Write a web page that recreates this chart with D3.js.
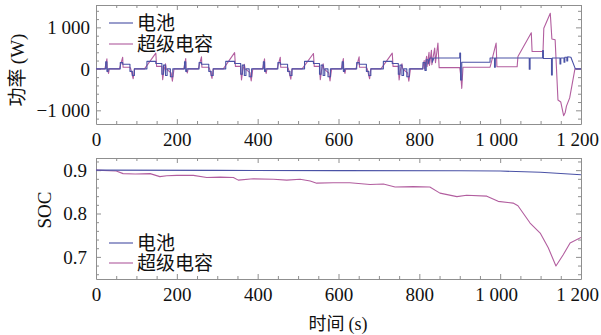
<!DOCTYPE html>
<html>
<head>
<meta charset="utf-8">
<script src="https://cdn.jsdelivr.net/npm/d3@7"></script>
<style>
body{margin:0;background:#fff;}
</style>
</head>
<body>
<svg id="svg" width="601" height="335"></svg>
<script>
// time ticks (s)
var timeTicks=[0,200,400,600,800,1000,1200];
var timeTickLabels=["0","200","400","600","800","1 000","1 200"];
var powerTicks=[-1000,0,1000];
var powerTickLabels=["\u22121 000","0","1 000"];
var socTicks=[0.7,0.8,0.9];
var socTickLabels=["0.7","0.8","0.9"];
var seriesNames=["电池","超级电容"];

// power (W) of the supercapacitor: [time, W]
var supercapPower=[
[0,0],[22,0],[27,240],[28,0],[31,-110],[33,0],[58,0],[66,280],[67,40],[84,40],[86,0],[92,-240],[95,0],[120,0],[148,380],[150,60],[163,60],[165,-260],[168,-40],[172,120],[174,0],[186,-100],[189,-300],[193,0],
[195,0],[217,0],[222,250],[223,0],[226,-100],[228,0],[253,0],[261,290],[262,40],[279,40],[281,0],[287,-230],[290,0],[315,0],[343,390],[345,60],[358,60],[360,-270],[363,-40],[367,110],[369,0],[381,-90],[384,-290],[388,0],
[390,0],[412,0],[417,240],[418,0],[421,-110],[423,0],[448,0],[456,280],[457,40],[474,40],[476,0],[482,-250],[485,0],[510,0],[538,370],[540,60],[553,60],[555,-260],[558,-40],[562,120],[564,0],[576,-100],[579,-290],[583,0],
[585,0],[607,0],[612,250],[613,0],[616,-110],[618,0],[643,0],[651,290],[652,40],[669,40],[671,0],[677,-240],[680,0],[705,0],[733,380],[735,60],[748,60],[750,-270],[753,-40],[757,120],[759,0],[771,-100],[774,-300],[778,0],
[808,0],[812,200],[813,0],[818,300],[819,50],[824,400],[825,80],[830,450],[831,100],[838,500],[840,150],[846,620],[849,30],[900,30],[903,-200],[905,-470],[908,40],[975,40],[978,150],[990,620],[992,50],[1042,50],[1044,300],[1077,870],[1079,420],[1106,420],[1108,980],[1124,1340],[1128,720],[1136,700],[1143,-750],[1150,-800],[1157,-1130],[1161,-1050],[1164,-900],[1172,-700],[1185,0],[1200,0]
];

// power (W) of the battery: [time, W]
var batteryPower=[
[0,0],[24,0],[24,170],[27,170],[27,-60],[30,-60],[30,0],[60,0],[60,150],[66,150],[66,110],[84,110],[84,-60],[90,-60],[90,-160],[95,-160],[95,0],[126,0],[126,180],[148,180],[148,130],[163,130],[163,-130],[167,-130],[167,90],[172,90],[172,-160],[176,-160],[176,0],[184,0],[184,-190],[190,-190],[190,0],
[219,0],[219,170],[222,170],[222,-60],[225,-60],[225,0],[255,0],[255,150],[261,150],[261,110],[279,110],[279,-60],[285,-60],[285,-160],[290,-160],[290,0],[321,0],[321,180],[343,180],[343,130],[358,130],[358,-130],[362,-130],[362,90],[367,90],[367,-160],[371,-160],[371,0],[379,0],[379,-190],[385,-190],[385,0],
[414,0],[414,170],[417,170],[417,-60],[420,-60],[420,0],[450,0],[450,150],[456,150],[456,110],[474,110],[474,-60],[480,-60],[480,-160],[485,-160],[485,0],[516,0],[516,180],[538,180],[538,130],[553,130],[553,-130],[557,-130],[557,90],[562,90],[562,-160],[566,-160],[566,0],[574,0],[574,-190],[580,-190],[580,0],
[609,0],[609,170],[612,170],[612,-60],[615,-60],[615,0],[645,0],[645,150],[651,150],[651,110],[669,110],[669,-60],[675,-60],[675,-160],[680,-160],[680,0],[711,0],[711,180],[733,180],[733,130],[748,130],[748,-130],[752,-130],[752,90],[757,90],[757,-160],[761,-160],[761,0],[769,0],[769,-190],[775,-190],[775,0],
[809,0],[809,150],[814,150],[814,-40],[817,-40],[817,220],[822,220],[822,120],[826,260],[832,260],[832,160],[836,260],[900,260],[900,380],[902,380],[902,-270],[905,-270],[905,160],[975,160],[975,260],[986,260],[986,40],[988,40],[988,260],[1072,260],[1072,-10],[1074,-10],[1074,260],[1105,260],[1105,440],[1107,440],[1107,250],[1127,250],[1127,-150],[1129,-150],[1129,260],[1148,260],[1148,120],[1150,120],[1150,260],[1158,260],[1158,160],[1160,160],[1160,280],[1165,280],[1165,190],[1167,190],[1167,290],[1175,280],[1186,0],[1200,0]
];

// state of charge: [time, SOC]
var batterySoc=[[0,0.9],[300,0.8995],[600,0.899],[900,0.8985],[1000,0.898],[1100,0.895],[1200,0.8895]];
var supercapSoc=[
[0,0.900],[50,0.898],[67,0.892],[97,0.891],[134,0.892],[158,0.885],[175,0.887],[200,0.888],[241,0.888],[274,0.883],[307,0.884],[340,0.883],[352,0.877],[389,0.880],[439,0.879],[472,0.877],[505,0.879],[530,0.875],[546,0.870],[587,0.871],[628,0.871],[678,0.867],[711,0.868],[740,0.861],[785,0.862],[826,0.861],[851,0.847],[893,0.839],[917,0.842],[967,0.840],[995,0.828],[1032,0.824],[1044,0.818],[1074,0.778],[1099,0.755],[1119,0.721],[1138,0.679],[1156,0.705],[1173,0.732],[1200,0.745]
];

var colors=["#4a52a6","#b25e9f"];
var frameColor="#8f8f8f";
var serif="'Liberation Serif','Times New Roman',serif";
var cjk="'Noto Sans CJK SC',sans-serif";
var svg=d3.select("#svg");

var x=d3.scaleLinear().domain([0,1200]).range([96,581]);

function makeAxis(i,y){
    return i==0?d3.axisBottom(x):i==1?d3.axisTop(x):i==2?d3.axisLeft(y):d3.axisRight(y);
}

function panel(yScale,yTicks,yLabels,yMinorStep,labelGap,seriesData,legendY,id){
    var top=yScale.range()[1],bottom=yScale.range()[0];
    var g=svg.append("g");
    g.append("defs").append("clipPath").attr("id",id)
        .append("rect").attr("x",x.range()[0]).attr("y",top)
        .attr("width",x.range()[1]-x.range()[0]).attr("height",bottom-top);

    var xMinor=d3.range(0,1201,50).filter(v=>v%200);
    var yd=yScale.domain();
    var yMinor=d3.range(Math.ceil(yd[0]/yMinorStep)*yMinorStep,yd[1],yMinorStep)
        .filter(v=>!yTicks.some(t=>Math.abs(t-v)<1e-9));

    // frame on four sides, ticks pointing inward
    var moves=["translate(0,"+bottom+")","translate(0,"+top+")",
               "translate("+x.range()[0]+",0)","translate("+x.range()[1]+",0)"];
    [0,1,2,3].forEach(i=>{
        var vals=i<2?timeTicks:yTicks;
        var labs=i==0?timeTickLabels:i==2?yLabels:null;
        var a=g.append("g").attr("transform",moves[i])
            .call(makeAxis(i,yScale).tickValues(vals).tickSizeInner(-5).tickSizeOuter(0)
                .tickFormat((d,j)=>labs?labs[j]:""));
        a.select(".domain").attr("stroke",frameColor);
        a.selectAll(".tick line").attr("stroke",frameColor);
        a.selectAll(".tick text").style("font-family",serif).style("font-size","19px").attr("fill","#111");
        if(i==0) a.selectAll(".tick text").attr("y",5).attr("dy","0.9em").attr("x",(d,j)=>j>4?-4:0);
        if(i==2) a.selectAll(".tick text").attr("x",-labelGap).attr("dy","0.33em");

        var m=g.append("g").attr("transform",moves[i])
            .call(makeAxis(i,yScale).tickValues(i<2?xMinor:yMinor).tickSizeInner(-3).tickSizeOuter(0).tickFormat(""));
        m.select(".domain").remove();
        m.selectAll(".tick line").attr("stroke",frameColor);
    });

    var line=d3.line().x(d=>x(d[0])).y(d=>yScale(d[1]));
    // supercap drawn first, battery on top
    [1,0].forEach(k=>{
        g.append("path").datum(seriesData[k])
            .attr("clip-path","url(#"+id+")")
            .attr("d",line).attr("fill","none")
            .attr("stroke",colors[k]).attr("stroke-width",1.1)
            .attr("stroke-linejoin","round");
    });

    seriesNames.forEach((n,k)=>{
        g.append("line").attr("x1",109).attr("x2",133)
            .attr("y1",legendY[k]).attr("y2",legendY[k])
            .attr("stroke",colors[k]).attr("stroke-width",1.5).attr("opacity",0.75);
        g.append("text").attr("x",137).attr("y",legendY[k]+6.5)
            .style("font-family",cjk).style("font-size","19px").attr("fill","#111").text(n);
    });
    return g;
}

var yPower=d3.scaleLinear().domain([-1330,1540]).range([124,5]);
var ySoc=d3.scaleLinear().domain([0.649,0.928]).range([279,158]);

panel(yPower,powerTicks,powerTickLabels,200,6,[batteryPower,supercapPower],[23,44],"clipP");
panel(ySoc,socTicks,socTickLabels,0.02,9,[batterySoc,supercapSoc],[243,263],"clipS");

// axis titles
var pt=svg.append("text").attr("transform","translate(24,70) rotate(-90)")
    .attr("text-anchor","middle").style("font-size","19px").attr("fill","#111");
pt.append("tspan").style("font-family",cjk).text("功率 ");
pt.append("tspan").style("font-family",serif).text("(W)");

svg.append("text").attr("transform","translate(51,210) rotate(-90)")
    .attr("text-anchor","middle").style("font-family",serif).style("font-size","19px")
    .attr("fill","#111").text("SOC");

var xt=svg.append("text").attr("x",338).attr("y",330)
    .attr("text-anchor","middle").style("font-size","18px").attr("fill","#111");
xt.append("tspan").style("font-family",cjk).text("时间 ");
xt.append("tspan").style("font-family",serif).text("(s)");
</script>
</body>
</html>
